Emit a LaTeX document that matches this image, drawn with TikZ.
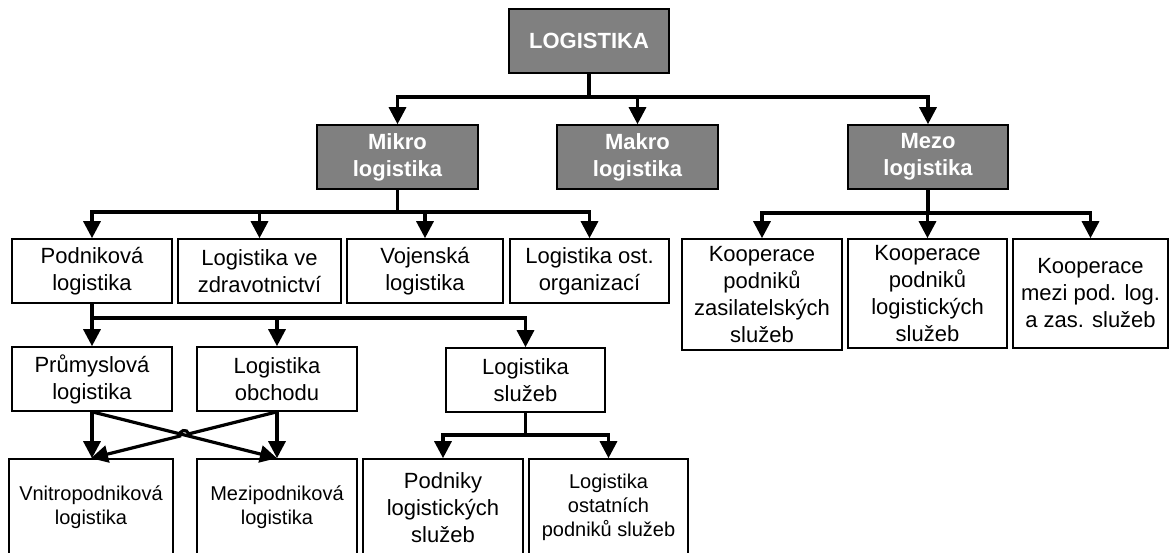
\documentclass[tikz,border=0pt]{standalone}
\usepackage{fontspec}
\setmainfont{Liberation Sans}
\usetikzlibrary{arrows.meta,calc}
\definecolor{headgray}{RGB}{128,128,128}
\tikzset{
  box/.style={draw=black, line width=1.6pt, fill=white, align=center,
    inner sep=0pt, font=\fontsize{22}{27}\selectfont},
  head/.style={box, fill=headgray, text=white,
    font=\bfseries\fontsize{22}{27}\selectfont},
  small/.style={font=\fontsize{20}{24}\selectfont},
  link/.style={line width=3.2pt},
  arr/.style={link, -{Triangle[length=17pt,width=17pt]}},
}
\begin{document}
\begin{tikzpicture}[x=1pt,y=-1pt]
\useasboundingbox (0,0) rectangle (1170,552);

% top level
\node[head, minimum width=160pt, minimum height=64pt] (root) at (589,41) {LOGISTIKA};
\node[head, minimum width=161pt, minimum height=64pt] (mikro) at (397.5,157) {Mikro\\logistika};
\node[head, minimum width=161pt, minimum height=64pt] (makro) at (637.5,157) {Makro\\logistika};
\node[head, minimum width=160pt, minimum height=64pt] (mezo) at (928,157) {Mezo\\logistika};

% micro-logistics branches
\node[box, minimum width=160pt, minimum height=64pt] (podnik) at (92,271) {Podniková\\logistika};
\node[box, minimum width=163pt, minimum height=64pt] (zdrav) at (259.5,271) {Logistika ve\\zdravotnictví};
\node[box, minimum width=156pt, minimum height=64pt] (vojen) at (425,271) {Vojenská\\logistika};
\node[box, minimum width=159pt, minimum height=64pt] (ostorg) at (589.5,271) {Logistika ost.\\organizací};

% meso-logistics branches
\node[box, minimum width=160pt, minimum height=111pt] (koop1) at (762,294.5) {Kooperace\\podniků\\zasilatelských\\služeb};
\node[box, minimum width=159pt, minimum height=109pt] (koop2) at (927.5,293.5) {Kooperace\\podniků\\logistických\\služeb};
\node[box, minimum width=155pt, minimum height=109pt] (koop3) at (1090.5,293.5) {Kooperace\\mezi pod. log.\\a zas. služeb};

% business logistics
\node[box, minimum width=160pt, minimum height=64pt] (prum) at (92,379) {Průmyslová\\logistika};
\node[box, minimum width=160pt, minimum height=64pt] (obch) at (277,379) {Logistika\\obchodu};
\node[box, minimum width=159pt, minimum height=64pt] (serv) at (525.5,380) {Logistika\\služeb};

% bottom row
\node[box, small, minimum width=164pt, minimum height=97pt] (vnitro) at (91,507.5) {Vnitropodniková\\logistika};
\node[box, small, minimum width=160pt, minimum height=97pt] (mezi) at (277,507.5) {Mezipodniková\\logistika};
\node[box, minimum width=160pt, minimum height=97pt] (podniky) at (443,507.5) {Podniky\\logistických\\služeb};
\node[box, small, minimum width=159pt, minimum height=97pt] (ostat) at (608.5,507.5) {Logistika\\ostatních\\podniků služeb};

% junction points of the bus lines
\coordinate (j1) at (589,97);
\coordinate (j2) at (397.5,212);
\coordinate (j3) at (928,213);
\coordinate (j4) at (92,318);
\coordinate (j5) at (525.5,435);

\draw[link] (root.south) -- (j1);
\draw[arr] (j1) -| (mikro.north);
\draw[arr] (j1) -| (makro.north);
\draw[arr] (j1) -| (mezo.north);

\draw[link] (mikro.south) -- (j2);
\draw[arr] (j2) -| (podnik.north);
\draw[arr] (j2) -| (zdrav.north);
\draw[arr] (j2) -| (vojen.north);
\draw[arr] (j2) -| (ostorg.north);

\draw[link] (mezo.south) -- (j3);
\draw[arr] (j3) -| (koop1.north);
\draw[arr] (j3) -| (koop2.north);
\draw[arr] (j3) -| (koop3.north);

\draw[link] (podnik.south) -- (j4);
\draw[arr] (j4) -| (prum.north);
\draw[arr] (j4) -| (obch.north);
\draw[arr] (j4) -| (serv.north);

\draw[link] (serv.south) -- (j5);
\draw[arr] (j5) -| (podniky.north);
\draw[arr] (j5) -| (ostat.north);

% crossed links between industrial/trade logistics and their kinds
\draw[arr] (prum.south) -- (prum.south |- vnitro.north);
\draw[arr] (obch.south) -- (obch.south |- mezi.north);
\draw[arr] (prum.south) -- (mezi.north);
\coordinate (cross) at (intersection of prum.south--mezi.north and obch.south--vnitro.north);
\coordinate (h1) at ($(cross)!4.5pt!(obch.south)$);
\coordinate (h2) at ($(cross)!4.5pt!(vnitro.north)$);
\draw[arr] (obch.south) -- (h1)
  .. controls ($(h1)!6pt!-90:(h2)$) and ($(h2)!6pt!90:(h1)$) .. (h2)
  -- (vnitro.north);
\end{tikzpicture}
\end{document}
